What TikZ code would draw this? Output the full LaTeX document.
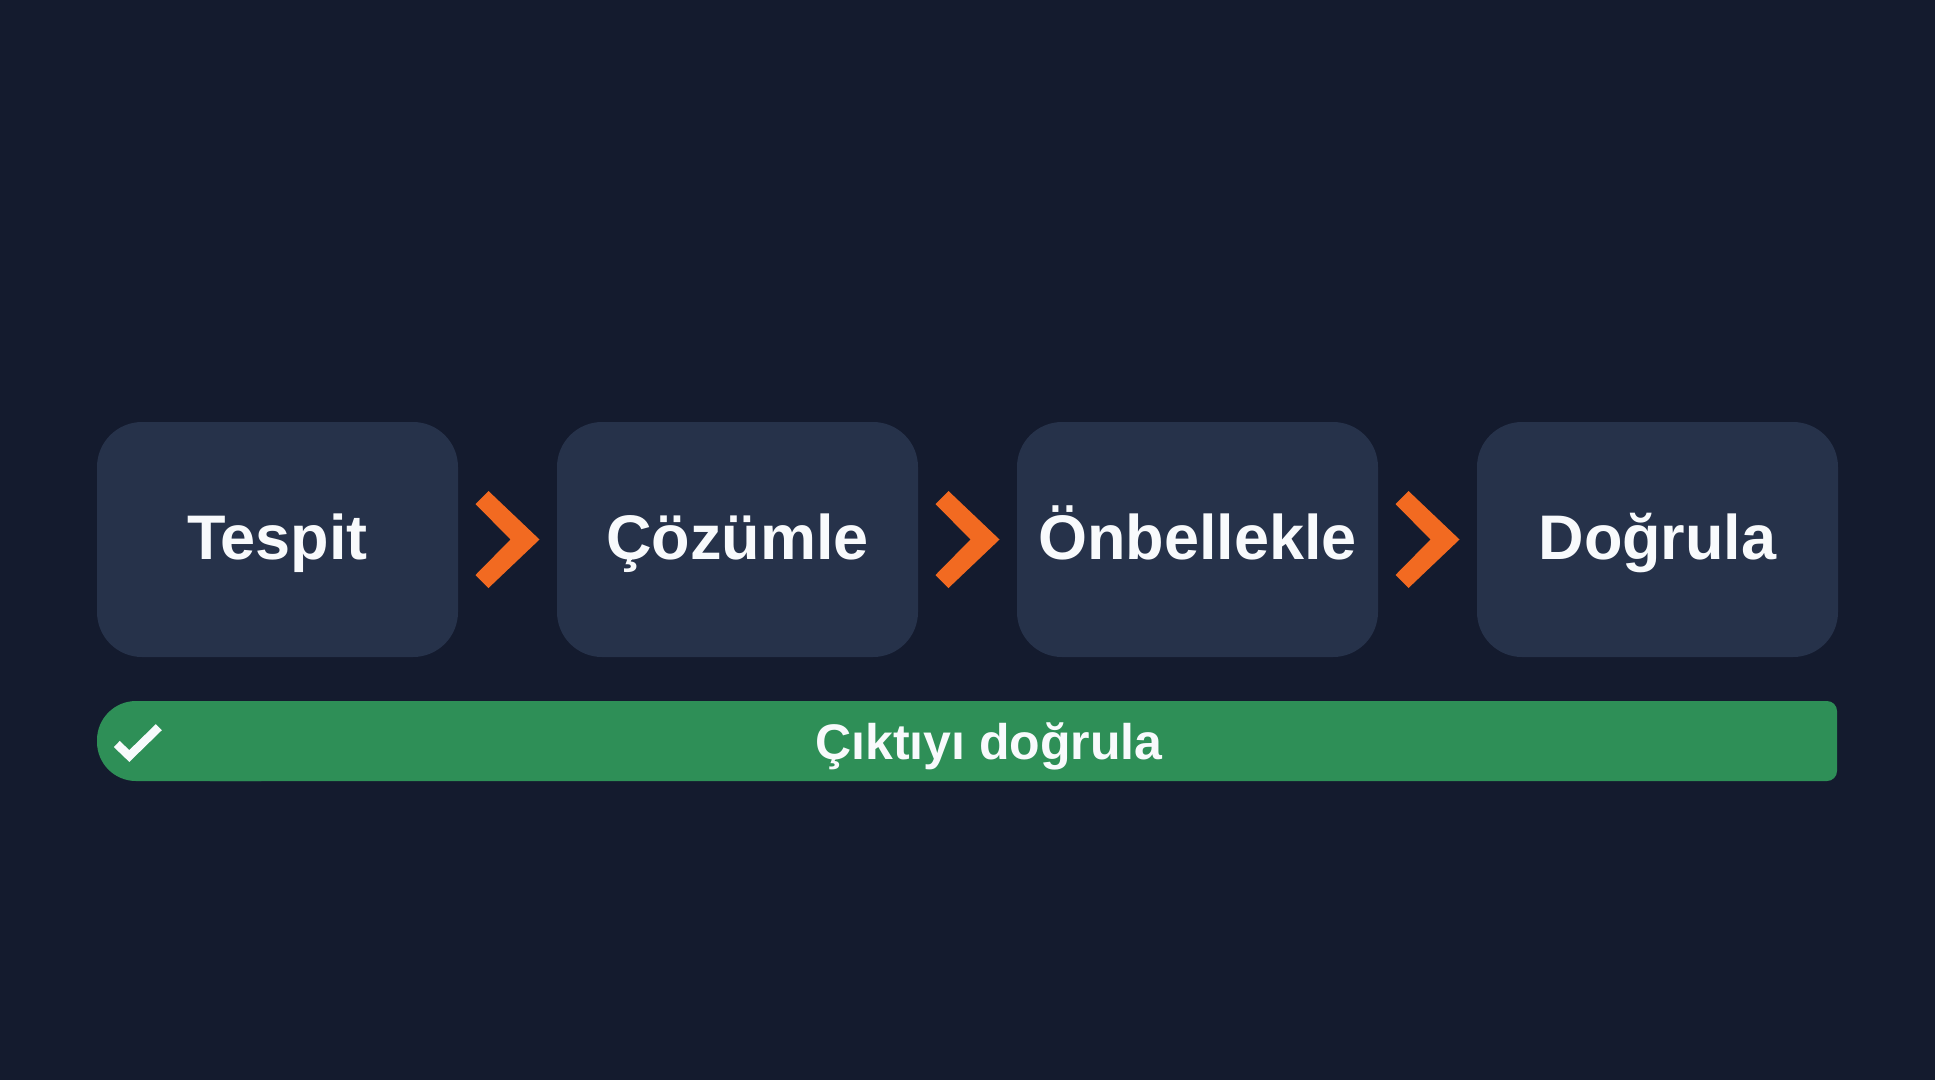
\documentclass[tikz,border=0pt]{standalone}
\usepackage{fontspec}
\setmainfont{Liberation Sans}
\usetikzlibrary{calc}
\definecolor{bgc}{HTML}{141B2E}
\definecolor{boxc}{HTML}{26324A}
\definecolor{barc}{HTML}{2E8F57}
\definecolor{chevc}{HTML}{F26A21}
\definecolor{txtc}{HTML}{F8FAFC}
\tikzset{
  stepbox/.style={fill=boxc, rounded corners=45pt, minimum width=361pt, minimum height=235pt,
    inner sep=0pt, text=txtc, font=\fontsize{63}{70}\selectfont\bfseries, text height=45pt, text depth=5pt},
  bartext/.style={text=txtc, inner sep=0pt, font=\fontsize{50}{56}\selectfont\bfseries, text height=36pt, text depth=0pt},
  checkline/.style={draw=txtc, line width=8.5pt, line join=miter},
  pics/chev/.style={code={\fill[chevc] (-19,-48.5) -- (32,0) -- (-19,48.5) -- (-32,35.5) -- (3,0) -- (-32,-35.5) -- cycle;}}
}
\begin{document}
\begin{tikzpicture}[x=1pt,y=-1pt]
\fill[bgc] (0,0) rectangle (1935,1080);
\useasboundingbox (0,0) rectangle (1935,1080);
\node[stepbox] (b1) at (277.5,539.5) {Tespit};
\node[stepbox] (b2) at (737.5,539.5) {Çözümle};
\node[stepbox] (b3) at (1197.5,539.5) {Önbellekle};
\node[stepbox] (b4) at (1657.5,539.5) {Doğrula};
\pic at ($(b1.east)!0.5!(b2.west)$) {chev};
\pic at ($(b2.east)!0.5!(b3.west)$) {chev};
\pic at ($(b3.east)!0.5!(b4.west)$) {chev};
\fill[barc, rounded corners=39pt] (97,701) rectangle (300,781);
\fill[barc, rounded corners=10pt] (200,701) rectangle (1837,781);
\node[bartext] (bt) at (989,741) {Çıktıyı doğrula};
\coordinate (c1) at (116.8,744.0);
\coordinate (c2) at (129.3,756.0);
\coordinate (c3) at (158.8,727.2);
\draw[checkline] (c1) -- (c2) -- (c3);
\end{tikzpicture}
\end{document}
